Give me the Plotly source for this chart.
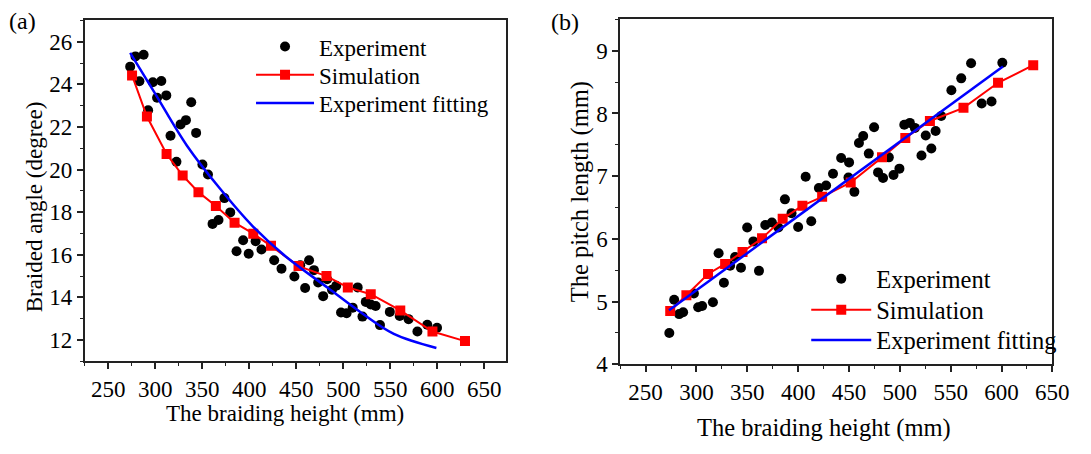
import plotly.graph_objects as go

W, H = 1091, 454

# ---------------- Panel (a) data ----------------
a_exp_x = [279.0, 287.7, 273.4, 283.2, 297.5, 306.5, 302.0, 311.8, 292.5, 338.3,
           327.0, 332.7, 343.5, 316.3, 322.6, 350.2, 356.1, 373.6, 379.8, 361.0,
           367.3, 393.5, 406.8, 386.5, 399.4, 413.0, 426.5, 434.3,
           463.6, 454.2, 468.8, 448.0, 459.4, 473.3, 478.6, 482.8, 492.5, 488.0,
           515.3, 510.0, 497.6, 503.5, 520.4, 523.9, 529.2, 534.4, 539.0, 549.5,
           560.0, 569.4, 578.8, 589.3, 599.7]
a_exp_y = [25.31, 25.39, 24.83, 24.14, 24.10, 24.16, 23.37, 23.48, 22.78, 23.16,
           22.12, 22.32, 21.72, 21.59, 20.37, 20.24, 19.77, 18.66, 17.99, 17.45,
           17.63, 16.68, 16.64, 16.17, 16.05, 16.25, 15.74, 15.35,
           15.74, 15.51, 15.28, 14.98, 14.44, 14.70, 14.06, 14.85, 14.55, 14.36,
           14.47, 13.52, 13.29, 13.26, 13.10, 13.79, 13.67, 13.60, 12.70, 13.32,
           13.13, 12.98, 12.40, 12.72, 12.58]

a_sim_x = [275.4, 291.2, 312.1, 329.2, 346.0, 364.5, 384.4, 404.3, 423.1,
           452.4, 482.1, 504.8, 529.2, 560.6, 594.8, 629.4]
a_sim_y = [24.42, 22.49, 20.73, 19.72, 18.94, 18.29, 17.51, 16.99, 16.42,
           15.47, 15.00, 14.47, 14.15, 13.39, 12.40, 11.95]

a_fit_x = [273.4, 298.8, 333.8, 368.6, 403.5, 438.5, 483.8, 518.8, 553.7, 599.0]
a_fit_y = [25.48, 23.65, 21.12, 19.12, 17.35, 15.93, 14.44, 13.29, 12.29, 11.63]

a_yticks = [12, 14, 16, 18, 20, 22, 24, 26]

# ---------------- Panel (b) data ----------------
b_exp_x = [273.3, 278.1, 283.0, 286.9, 297.5, 301.7, 305.6, 316.2, 321.8, 327.0,
           333.1, 338.0, 343.8, 349.9, 356.0, 361.5, 367.7, 374.2, 380.6, 387.0,
           393.5, 400.0, 412.9, 407.4, 420.4, 427.5, 434.3, 442.3, 450.1,
           449.5, 455.3, 459.8, 464.0, 469.5, 474.7, 478.6, 483.5, 489.2, 493.8,
           499.6, 504.4, 509.9, 514.8, 521.3, 525.5, 531.0, 535.2, 540.7, 550.7,
           560.4, 570.1, 580.5, 590.2, 600.8]
b_exp_y = [4.50, 5.03, 4.80, 4.83, 5.13, 4.91, 4.93, 4.99, 5.77, 5.30,
           5.57, 5.71, 5.54, 6.18, 5.96, 5.49, 6.22, 6.26, 6.18, 6.63,
           6.41, 6.19, 6.28, 6.99, 6.81, 6.85, 7.04, 7.29, 7.22,
           6.98, 6.75, 7.53, 7.64, 7.36, 7.78, 7.06, 6.97, 7.30, 7.02,
           7.12, 7.82, 7.85, 7.77, 7.33, 7.65, 7.44, 7.72, 7.96, 8.37,
           8.56, 8.80, 8.16, 8.19, 8.81]

b_sim_x = [274.2, 290.1, 311.4, 328.2, 345.3, 364.5, 384.8, 404.2, 423.6,
           451.7, 482.5, 505.4, 529.6, 562.6, 596.6, 631.2]
b_sim_y = [4.85, 5.10, 5.44, 5.60, 5.79, 6.01, 6.32, 6.53, 6.67,
           6.90, 7.30, 7.61, 7.88, 8.09, 8.49, 8.77]

b_fit_x = [273.0, 601.4]
b_fit_y = [4.86, 8.75]

x_ticks = [250, 300, 350, 400, 450, 500, 550, 600, 650]
b_yticks = [4, 5, 6, 7, 8, 9]

FONT = "Liberation Serif"
RED = "#FF0000"
BLUE = "#0000FF"

fig = go.Figure()

# Panel (a)
fig.add_trace(go.Scatter(x=a_exp_x, y=a_exp_y, mode="markers", name="Experiment",
                         marker=dict(color="black", size=10, symbol="circle"),
                         xaxis="x", yaxis="y", legend="legend"))
fig.add_trace(go.Scatter(x=a_sim_x, y=a_sim_y, mode="lines+markers", name="Simulation",
                         line=dict(color=RED, width=2),
                         marker=dict(color=RED, size=10, symbol="square"),
                         xaxis="x", yaxis="y", legend="legend2"))
fig.add_trace(go.Scatter(x=a_fit_x, y=a_fit_y, mode="lines", name="Experiment fitting",
                         line=dict(color=BLUE, width=2.5, shape="spline"),
                         xaxis="x", yaxis="y", legend="legend3"))

# Panel (b)
fig.add_trace(go.Scatter(x=b_exp_x, y=b_exp_y, mode="markers", name="Experiment",
                         marker=dict(color="black", size=10, symbol="circle"),
                         xaxis="x2", yaxis="y2", legend="legend4"))
fig.add_trace(go.Scatter(x=b_sim_x, y=b_sim_y, mode="lines+markers", name="Simulation",
                         line=dict(color=RED, width=2),
                         marker=dict(color=RED, size=10, symbol="square"),
                         xaxis="x2", yaxis="y2", legend="legend5"))
fig.add_trace(go.Scatter(x=b_fit_x, y=b_fit_y, mode="lines", name="Experiment fitting",
                         line=dict(color=BLUE, width=2.5),
                         xaxis="x2", yaxis="y2", legend="legend6"))

axis_common = dict(showline=True, linecolor="#222", linewidth=1.5, mirror=True,
                   ticks="outside", ticklen=6, tickwidth=1.5, tickcolor="#222",
                   showgrid=False, zeroline=False,
                   tickfont=dict(family=FONT, size=23, color="black"))


def leg(px, py, size, iw):
    return dict(x=px / W, y=1 - py / H, xanchor="left", yanchor="middle",
                bgcolor="rgba(0,0,0,0)", borderwidth=0,
                font=dict(family=FONT, size=size, color="black"),
                itemwidth=iw)


fig.update_layout(
    width=W, height=H,
    margin=dict(l=0, r=0, t=0, b=0),
    paper_bgcolor="white", plot_bgcolor="white",
    font=dict(family=FONT, color="black"),
    xaxis=dict(domain=[86 / W, 514 / W], range=[225, 673], anchor="y",
               tickvals=x_ticks,
               minor=dict(dtick=25, tick0=225, ticks="outside", ticklen=3, tickcolor="#222", tickwidth=1.2),
               **axis_common),
    yaxis=dict(domain=[1 - 372 / H, 1 - 21 / H], range=[11, 27], anchor="x",
               tickvals=a_yticks,
               minor=dict(dtick=1, tick0=11, ticks="outside", ticklen=3, tickcolor="#222", tickwidth=1.2),
               **axis_common),
    xaxis2=dict(domain=[630 / W, 1069 / W], range=[225, 650], anchor="y2",
                tickvals=x_ticks,
                minor=dict(dtick=25, tick0=225, ticks="outside", ticklen=3, tickcolor="#222", tickwidth=1.2),
                **axis_common),
    yaxis2=dict(domain=[1 - 375 / H, 1 - 20 / H], range=[4, 9.5], anchor="x2",
                tickvals=b_yticks,
                minor=dict(dtick=0.5, tick0=4, ticks="outside", ticklen=3, tickcolor="#222", tickwidth=1.2),
                **axis_common),
    legend=leg(255, 48, 23, 58),
    legend2=leg(255, 77, 23, 58),
    legend3=leg(255, 106, 23, 58),
    legend4=leg(819, 287, 24.5, 60),
    legend5=leg(819, 319, 24.5, 60),
    legend6=leg(819, 350, 24.5, 60),
    showlegend=True,
)

ann_font = dict(family=FONT, size=23, color="black")
big_font = dict(family=FONT, size=24.5, color="black")


def ann(text, px, py, font, angle=0):
    return dict(text=text, x=px / W, y=1 - py / H, xref="paper", yref="paper",
                xanchor="center", yanchor="middle", showarrow=False,
                textangle=angle, font=font)


annotations = [
    ann("(a)", 23, 22, dict(family=FONT, size=24, color="black")),
    ann("(b)", 574, 23, dict(family=FONT, size=24, color="black")),
    ann("The braiding height (mm)", 290, 426, ann_font),
    ann("Braided angle (degree)", 35, 213, ann_font, -90),
    ann("The braiding height (mm)", 837, 441, big_font),
    ann("The pitch length (mm)", 590, 197, big_font, -90),
]
fig.update_layout(annotations=annotations)

fig.write_html("out.html")
